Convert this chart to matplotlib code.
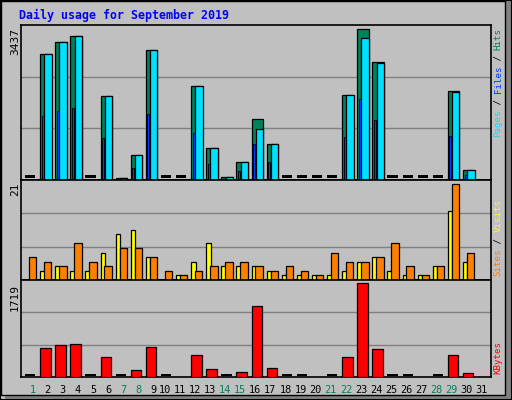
import numpy as np
import matplotlib
matplotlib.use("Agg")
import matplotlib.pyplot as plt
import matplotlib.patches as patches

days = np.arange(1, 32)
hits = [0, 2876, 3133, 3273, 0, 1917, 50, 561, 2970, 0, 0, 2151, 725, 70, 400, 1380,
        820, 0, 0, 0, 0, 1940, 3437, 2690, 0, 0, 0, 0, 2034, 234, np.nan]
files = [0, 2876, 3133, 3273, 0, 1917, 50, 561, 2970, 0, 0, 2151, 725, 70, 400, 1170,
         820, 0, 0, 0, 0, 1940, 3227, 2666, 0, 0, 0, 0, 2010, 234, np.nan]
pages = [0, 1450, 1566, 1637, 0, 959, 20, 280, 1496, 0, 0, 1075, 374, 30, 210, 820,
         420, 0, 0, 0, 0, 980, 1847, 1356, 0, 0, 0, 0, 1005, 117, np.nan]
visits = [0, 2, 3, 2, 2, 6, 10, 11, 5, 0, 1, 4, 8, 3, 3, 3, 2, 1, 1, 1, 1, 2, 4, 5,
          2, 1, 1, 3, 15, 4, np.nan]
sites = [5, 4, 3, 8, 4, 3, 7, 7, 5, 2, 1, 2, 3, 4, 4, 3, 2, 3, 2, 1, 6, 4, 4, 5,
         8, 3, 1, 3, 21, 6, np.nan]
kbytes = [0, 538, 594, 612, 0, 369, 0, 125, 556, 0, np.nan, 406, 144, 0, 88, 1306,
          162, 0, 0, np.nan, 0, 369, 1719, 506, 0, 0, np.nan, 0, 406, 69, np.nan]
weekend = [1, 7, 8, 14, 15, 21, 22, 28, 29]

BG = "#C0C0C0"
C_HITS, C_FILES, C_PAGES = "#00805C", "#00E0FF", "#0040FF"
C_VISITS, C_SITES, C_KB = "#FFFF00", "#FF8000", "#FF0000"
MONO = "DejaVu Sans Mono"

W, H = 512, 400
fig = plt.figure(figsize=(W / 100, H / 100), dpi=100, facecolor=BG)

def fx(x):
    return x / W

def fy(y):
    return 1 - y / H

# outer frame + shadow
fig.patches.append(patches.Rectangle((fx(505), fy(400)), fx(7), 1, transform=fig.transFigure,
                                     facecolor="#808080", edgecolor="none"))
fig.patches.append(patches.Rectangle((fx(5), fy(400)), fx(507), fy(395) - fy(400), transform=fig.transFigure,
                                     facecolor="#808080", edgecolor="none"))
fig.patches.append(patches.Rectangle((fx(0.5), fy(394.5)), fx(504.5), fy(0.5) - fy(394.5), transform=fig.transFigure,
                                     facecolor="none", edgecolor="black", linewidth=1))
fig.patches.append(patches.Rectangle((fx(0), fy(400)), 1, 1, transform=fig.transFigure,
                                     facecolor="none", edgecolor="black", linewidth=1.5))

fig.text(fx(19), fy(15), "Daily usage for September 2019", color="#0000FF",
         fontsize=8.4, fontweight="bold", family=MONO, va="center", ha="left")

XLIM = (0.735, 31.86)

def make_ax(top, bottom):
    ax = fig.add_axes([fx(21), fy(bottom), fx(491 - 21), fy(top) - fy(bottom)])
    ax.set_facecolor(BG)
    ax.set_xlim(*XLIM)
    ax.set_xticks([])
    ax.set_yticks([])
    for s in ax.spines.values():
        s.set_color("black")
        s.set_linewidth(1.2)
    return ax

def bars(ax, x0, w, vals, color, ymax):
    for d, v in zip(days, vals):
        if np.isnan(v):
            continue
        if v > 0:
            ax.add_patch(patches.Rectangle((d + x0, 0), w, v, facecolor=color,
                                           edgecolor="black", linewidth=0.9, zorder=3))
        else:
            # zero day: flat black dash
            ax.add_patch(patches.Rectangle((d, ymax * 0.01), 0.69, ymax * 0.02, facecolor="black",
                                           edgecolor="none", zorder=5))

def grid(ax, ymax):
    ax.set_ylim(0, ymax)
    for f in (1 / 3, 2 / 3):
        ax.axhline(ymax * f, color="#808080", linewidth=1, zorder=1)

# top panel
ax1 = make_ax(25, 180)
y1 = 3437 * 151 / 147
grid(ax1, y1)
bars(ax1, 0.0, 0.75, hits, C_HITS, y1)
for d, v in zip(days, files):
    if not np.isnan(v) and v > 0:
        ax1.add_patch(patches.Rectangle((d + 0.28, 0), 0.49, v, facecolor=C_FILES,
                                        edgecolor="black", linewidth=0.9, zorder=3))
for d, v in zip(days, pages):
    if not np.isnan(v) and v > 0:
        ax1.add_patch(patches.Rectangle((d + 0.11, 0), 0.13, v, facecolor=C_PAGES,
                                        edgecolor="black", linewidth=0.6, zorder=4))

# middle panel
ax2 = make_ax(180, 280)
y2 = 21 * 287 / 276
grid(ax2, y2)
for d, v, s in zip(days, visits, sites):
    if np.isnan(s):
        continue
    if v > 0:
        ax2.add_patch(patches.Rectangle((d, 0), 0.3, v, facecolor=C_VISITS,
                                        edgecolor="black", linewidth=0.9, zorder=3))
    ax2.add_patch(patches.Rectangle((d + 0.26, 0), 0.49, s, facecolor=C_SITES,
                                    edgecolor="black", linewidth=0.9, zorder=4))

# bottom panel
ax3 = make_ax(280, 377)
y3 = 1719 * 285 / 275
grid(ax3, y3)
bars(ax3, 0.0, 0.69, kbytes, C_KB, y3)

# day labels
for d in days:
    xd = d + (0.5 if d < 10 else 0.25)
    ax3.text(xd, -0.13, str(d), transform=ax3.get_xaxis_transform(), ha="center", va="center",
             fontsize=7.4, family=MONO, color=C_HITS if d in weekend else "black")

# left max labels
for txt, ytop in (("3437", 28), ("21", 183), ("1719", 284)):
    fig.text(fx(15), fy(ytop), txt, rotation=90, ha="center", va="top",
             fontsize=8, family=MONO, color="black")

# right series labels (bottom to top)
def vlabel(parts, ybottom):
    y = ybottom
    for txt, col in parts:
        fig.text(fx(498), fy(y), txt, rotation=90, ha="center", va="bottom",
                 fontsize=6.6, family=MONO, color=col)
        y -= 5.45 * len(txt)

vlabel([("Pages", C_FILES), (" / ", "black"), ("Files", C_PAGES), (" / ", "black"), ("Hits", C_HITS)], 137)
vlabel([("Sites", C_SITES), (" / ", "black"), ("Visits", C_VISITS)], 276)
vlabel([("KBytes", C_KB)], 374)

fig.savefig("out.png", dpi=100, facecolor=BG)
